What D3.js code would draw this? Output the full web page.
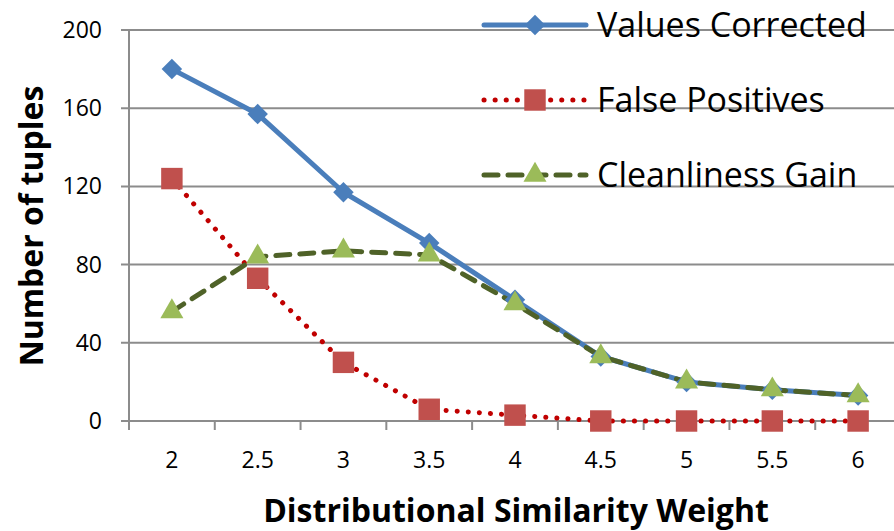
<!DOCTYPE html>
<html>
<head>
<meta charset="utf-8">
<script src="https://cdn.jsdelivr.net/npm/d3@7/dist/d3.min.js"></script>
<style>
  body { margin: 0; background: #fff; }
  text { font-family: "Open Sans", "Noto Sans", sans-serif; }
</style>
</head>
<body>
<svg id="chart" width="894" height="531"></svg>
<script>
// data
const categories = ["2", "2.5", "3", "3.5", "4", "4.5", "5", "5.5", "6"];
const valuesCorrected = [180, 157, 117, 91, 62, 33, 20, 16, 13];
const falsePositives = [124, 73, 30, 6, 3, 0, 0, 0, 0];
const cleanlinessGain = [56, 84, 87, 85, 60, 33, 20, 16, 13];
const yTicks = [0, 40, 80, 120, 160, 200];

const svg = d3.select("#chart");
const plotLeft = 129, plotRight = 901, plotTop = 30, plotBottom = 421;

const x = d3.scaleBand().domain(categories).range([plotLeft, plotRight]);
const y = d3.scaleLinear().domain([0, 200]).range([plotBottom, plotTop]);

// gridlines
svg.append("g")
  .selectAll("line")
  .data(yTicks)
  .enter()
  .append("line")
  .attr("x1", plotLeft - 8)
  .attr("x2", plotRight)
  .attr("y1", d => y(d))
  .attr("y2", d => y(d))
  .attr("stroke", "#8c8c8c")
  .attr("stroke-width", 2);

// y axis line
svg.append("line")
  .attr("x1", plotLeft).attr("x2", plotLeft)
  .attr("y1", plotTop).attr("y2", plotBottom)
  .attr("stroke", "#8c8c8c").attr("stroke-width", 2);

// x ticks at band edges
const edges = categories.map(c => x(c)).concat([plotRight]);
svg.append("g")
  .selectAll("line")
  .data(edges)
  .enter()
  .append("line")
  .attr("x1", d => d).attr("x2", d => d)
  .attr("y1", plotBottom).attr("y2", plotBottom + 9)
  .attr("stroke", "#8c8c8c").attr("stroke-width", 2);

// y labels
svg.append("g")
  .selectAll("text")
  .data(yTicks)
  .enter()
  .append("text")
  .attr("x", 102)
  .attr("y", d => y(d) + 8)
  .attr("text-anchor", "end")
  .attr("font-size", 23)
  .text(d => d);

// x labels
const cx = c => x(c) + x.bandwidth() / 2;
svg.append("g")
  .selectAll("text")
  .data(categories)
  .enter()
  .append("text")
  .attr("x", d => cx(d))
  .attr("y", 468)
  .attr("text-anchor", "middle")
  .attr("font-size", 23)
  .text(d => d);

// axis titles
svg.append("text")
  .attr("x", 516).attr("y", 522)
  .attr("text-anchor", "middle")
  .attr("font-size", 32).attr("font-weight", "bold")
  .text("Distributional Similarity Weight");

svg.append("text")
  .attr("transform", "translate(43,226) rotate(-90)")
  .attr("text-anchor", "middle")
  .attr("font-size", 32).attr("font-weight", "bold")
  .text("Number of tuples");

const line = d3.line()
  .x((d, i) => cx(categories[i]))
  .y(d => y(d));

// series definitions
const series = [
  { name: "Values Corrected", values: valuesCorrected, stroke: "#4a7ebb", dash: null, marker: d3.symbolSquare, rot: 45, fill: "#4a7ebb", size: 210 },
  { name: "False Positives", values: falsePositives, stroke: "#c00000", dash: "0.1,11", marker: d3.symbolSquare, rot: 0, fill: "#c0504d", size: 460 },
  { name: "Cleanliness Gain", values: cleanlinessGain, stroke: "#4f6228", dash: "14,10", marker: d3.symbolTriangle, rot: 0, fill: "#9bbb59", size: 230 }
];

series.forEach(s => {
  svg.append("path")
    .datum(s.values)
    .attr("d", line)
    .attr("fill", "none")
    .attr("stroke", s.stroke)
    .attr("stroke-width", 5)
    .attr("stroke-linecap", "round")
    .attr("stroke-linejoin", "round")
    .attr("stroke-dasharray", s.dash);
});

series.forEach(s => {
  svg.append("g")
    .selectAll("path")
    .data(s.values)
    .enter()
    .append("path")
    .attr("d", d3.symbol().type(s.marker).size(s.size))
    .attr("transform", (d, i) => "translate(" + cx(categories[i]) + "," + y(d) + ") rotate(" + s.rot + ")")
    .attr("fill", s.fill);
});

// legend
const legend = svg.append("g");
series.forEach((s, i) => {
  const ly = 25 + i * 75;
  legend.append("line")
    .attr("x1", 484).attr("x2", 586)
    .attr("y1", ly).attr("y2", ly)
    .attr("stroke", s.stroke)
    .attr("stroke-width", 5)
    .attr("stroke-linecap", "round")
    .attr("stroke-dasharray", s.dash);
  legend.append("path")
    .attr("d", d3.symbol().type(s.marker).size(s.size))
    .attr("transform", "translate(535," + ly + ") rotate(" + s.rot + ")")
    .attr("fill", s.fill);
  legend.append("text")
    .attr("x", 597).attr("y", ly + 12)
    .attr("font-size", 34)
    .text(s.name);
});
</script>
</body>
</html>
